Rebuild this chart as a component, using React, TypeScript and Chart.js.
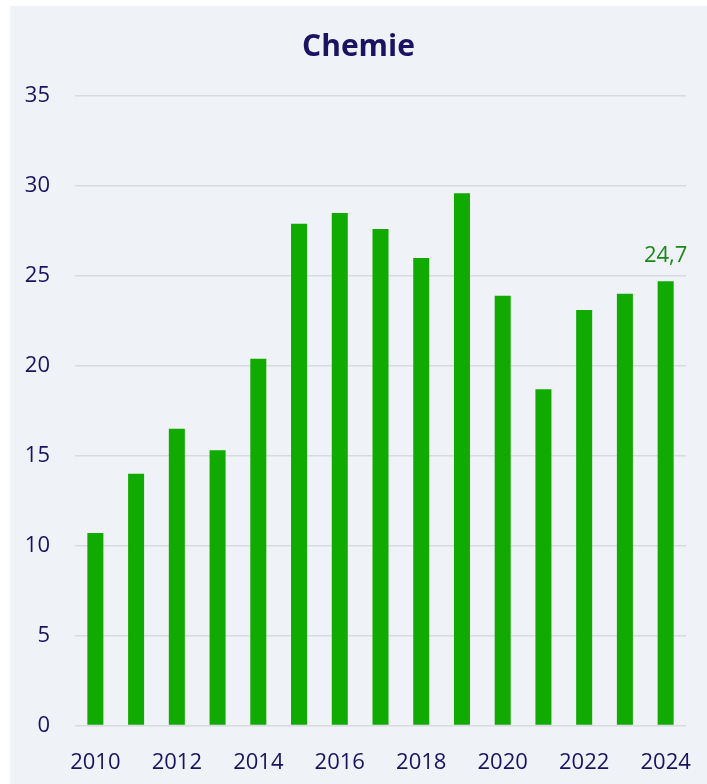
import React, { useEffect, useRef } from "react";
import { Chart, registerables } from "chart.js";

Chart.register(...registerables);

const TITLE = "Chemie";
const YEARS = ["2010", "2011", "2012", "2013", "2014", "2015", "2016", "2017", "2018", "2019", "2020", "2021", "2022", "2023", "2024"];
const VALUES = [10.7, 14.0, 16.5, 15.3, 20.4, 27.9, 28.5, 27.6, 26.0, 29.6, 23.9, 18.7, 23.1, 24.0, 24.7];
const Y_TICKS = [0, 5, 10, 15, 20, 25, 30, 35];

const FONT = "'Source Sans Pro', 'Open Sans', sans-serif";
const NAVY = "#1b1262";
const GREEN = "#10aa00";
const LABEL_GREEN = "#1a8a1a";

const lastLabelPlugin = {
  id: "lastLabel",
  afterDatasetsDraw(chart: any) {
    const meta = chart.getDatasetMeta(0);
    const idx = VALUES.length - 1;
    const el = meta.data[idx];
    if (!el) return;
    const ctx = chart.ctx;
    ctx.save();
    ctx.font = `22px ${FONT}`;
    ctx.fillStyle = LABEL_GREEN;
    ctx.textAlign = "center";
    ctx.textBaseline = "alphabetic";
    ctx.fillText(String(VALUES[idx]).replace(".", ","), el.x, el.y - 19);
    ctx.restore();
  },
};

export default function App() {
  const ref = useRef<HTMLCanvasElement>(null);
  useEffect(() => {
    if (!ref.current) return;
    const chart = new Chart(ref.current, {
      type: "bar",
      data: {
        labels: YEARS,
        datasets: [
          {
            data: VALUES,
            backgroundColor: GREEN,
            borderWidth: 0,
            barPercentage: 0.393,
            categoryPercentage: 1,
          },
        ],
      },
      options: {
        responsive: false,
        animation: false,
        layout: { padding: { left: 0, right: 0, top: 0, bottom: 8 } },
        plugins: {
          legend: { display: false },
          tooltip: { enabled: false },
          title: {
            display: true,
            text: TITLE,
            color: NAVY,
            font: { family: FONT, size: 30, weight: "bold" },
            padding: { top: 23, bottom: 31 },
          },
        },
        scales: {
          x: {
            grid: { display: false, drawTicks: false },
            border: { display: false },
            afterFit: (s: any) => {
              s.height = 50.4;
              s.paddingLeft = 0;
              s.paddingRight = 0;
            },
            ticks: {
              color: NAVY,
              font: { family: FONT, size: 22 },
              padding: 24,
              autoSkip: false,
              maxRotation: 0,
              callback: (_v: any, i: number) => (i % 2 === 0 ? YEARS[i] : ""),
            },
          },
          y: {
            min: 0,
            max: 35,
            afterBuildTicks: (s: any) => {
              s.ticks = Y_TICKS.map((v) => ({ value: v }));
            },
            afterFit: (s: any) => {
              s.width = 65;
            },
            grid: { color: "#d7dade", lineWidth: 1.5, drawTicks: false },
            border: { display: false },
            ticks: {
              color: NAVY,
              font: { family: FONT, size: 22 },
              padding: 25,
            },
          },
          yRight: {
            position: "right",
            min: 0,
            max: 35,
            afterFit: (s: any) => {
              s.width = 21;
            },
            grid: { display: false, drawTicks: false },
            border: { display: false },
            ticks: { display: false },
          },
        },
      },
      plugins: [lastLabelPlugin],
    } as any);
    return () => chart.destroy();
  }, []);

  return (
    <div
      style={{
        position: "absolute",
        left: 10,
        top: 6,
        width: 697,
        height: 778,
        background: "#eff2f7",
      }}
    >
      <canvas ref={ref} width={697} height={778} style={{ display: "block" }} />
    </div>
  );
}
